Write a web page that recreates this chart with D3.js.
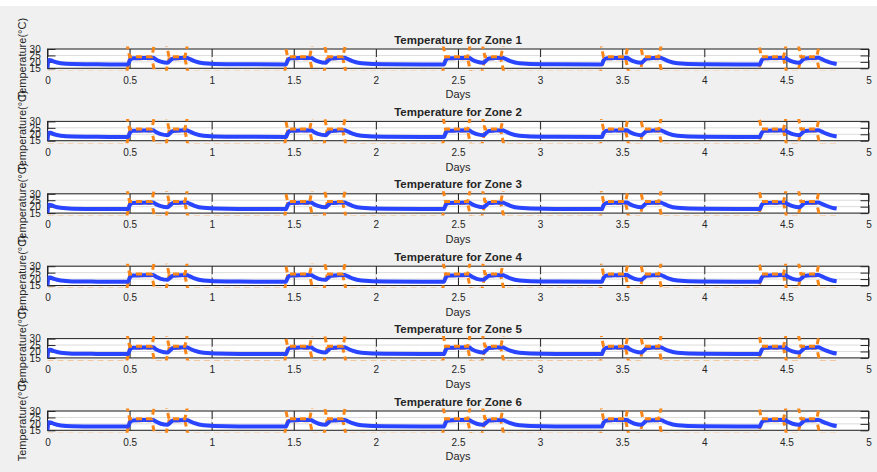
<!DOCTYPE html>
<html>
<head>
<meta charset="utf-8">
<script src="https://cdn.jsdelivr.net/npm/d3@7"></script>
<style>
  html, body { margin: 0; padding: 0; background: #f0f0f0; }
  svg { display: block; }
  text { font-family: "Liberation Sans", Arial, Helvetica, sans-serif; fill: #262626; }
</style>
</head>
<body>
<svg id="fig" width="877" height="472"></svg>
<script>
// Zone titles
const zoneNames = ["Zone 1", "Zone 2", "Zone 3", "Zone 4", "Zone 5", "Zone 6"];

// Sample times (days) of the simulated indoor temperature
const days = [
  0, 0.006, 0.018, 0.040, 0.080, 0.150, 0.300,
  0.490, 0.502, 0.520, 0.580, 0.642, 0.660, 0.690, 0.732, 0.746, 0.765, 0.847, 0.865, 0.895, 0.950, 1.090,
  1.452, 1.464, 1.482, 1.542, 1.604, 1.622, 1.652, 1.694, 1.708, 1.727, 1.809, 1.827, 1.857, 1.912, 2.052,
  2.414, 2.426, 2.444, 2.504, 2.566, 2.584, 2.614, 2.656, 2.670, 2.689, 2.771, 2.789, 2.819, 2.874, 3.014,
  3.376, 3.388, 3.406, 3.466, 3.528, 3.546, 3.576, 3.618, 3.632, 3.651, 3.733, 3.751, 3.781, 3.836, 3.976,
  4.338, 4.350, 4.368, 4.428, 4.490, 4.508, 4.538, 4.580, 4.594, 4.613, 4.695, 4.713, 4.743, 4.780, 4.806
];

// Indoor temperature per zone (°C)
const zone1Temp = [
  15.2, 21.4, 21.3, 20.2, 19.0, 18.3, 18.1,
  18.0, 21.4, 22.8, 23.1, 23.2, 21.9, 20.2, 19.3, 20.9, 22.7, 23.2, 22.3, 20.6, 19.0, 18.2,
  18.0, 21.4, 22.8, 23.1, 23.2, 21.9, 20.2, 19.3, 20.9, 22.7, 23.2, 22.3, 20.6, 19.0, 18.2,
  18.0, 21.4, 22.8, 23.1, 23.2, 21.9, 20.2, 19.3, 20.9, 22.7, 23.2, 22.3, 20.6, 19.0, 18.2,
  18.0, 21.4, 22.8, 23.1, 23.2, 21.9, 20.2, 19.3, 20.9, 22.7, 23.2, 22.3, 20.6, 19.0, 18.2,
  18.0, 21.4, 22.8, 23.1, 23.2, 21.9, 20.2, 19.3, 20.9, 22.7, 23.2, 22.3, 20.6, 19.0, 18.4
];
const zone2Temp = [
  15.2, 21.2, 21.1, 20.0, 18.9, 18.2, 18.0,
  17.9, 21.2, 22.7, 23.0, 23.1, 21.8, 20.1, 19.3, 20.8, 22.6, 23.1, 22.2, 20.5, 18.9, 18.1,
  17.9, 21.2, 22.7, 23.0, 23.1, 21.8, 20.1, 19.3, 20.8, 22.6, 23.1, 22.2, 20.5, 18.9, 18.1,
  17.9, 21.2, 22.7, 23.0, 23.1, 21.8, 20.1, 19.3, 20.8, 22.6, 23.1, 22.2, 20.5, 18.9, 18.1,
  17.9, 21.2, 22.7, 23.0, 23.1, 21.8, 20.1, 19.3, 20.8, 22.6, 23.1, 22.2, 20.5, 18.9, 18.1,
  17.9, 21.2, 22.7, 23.0, 23.1, 21.8, 20.1, 19.3, 20.8, 22.6, 23.1, 22.2, 20.5, 18.9, 18.3
];
const zone3Temp = [
  15.2, 21.5, 21.4, 20.3, 19.1, 18.4, 18.2,
  18.1, 21.5, 22.9, 23.1, 23.2, 22.0, 20.4, 19.5, 21.0, 22.8, 23.2, 22.4, 20.7, 19.1, 18.3,
  18.1, 21.5, 22.9, 23.1, 23.2, 22.0, 20.4, 19.5, 21.0, 22.8, 23.2, 22.4, 20.7, 19.1, 18.3,
  18.1, 21.5, 22.9, 23.1, 23.2, 22.0, 20.4, 19.5, 21.0, 22.8, 23.2, 22.4, 20.7, 19.1, 18.3,
  18.1, 21.5, 22.9, 23.1, 23.2, 22.0, 20.4, 19.5, 21.0, 22.8, 23.2, 22.4, 20.7, 19.1, 18.3,
  18.1, 21.5, 22.9, 23.1, 23.2, 22.0, 20.4, 19.5, 21.0, 22.8, 23.2, 22.4, 20.7, 19.1, 18.5
];
const zone4Temp = [
  15.2, 21.3, 21.2, 20.1, 18.9, 18.2, 18.0,
  17.9, 21.3, 22.7, 23.0, 23.1, 21.9, 20.2, 19.4, 20.9, 22.6, 23.1, 22.3, 20.5, 18.9, 18.1,
  17.9, 21.3, 22.7, 23.0, 23.1, 21.9, 20.2, 19.4, 20.9, 22.6, 23.1, 22.3, 20.5, 18.9, 18.1,
  17.9, 21.3, 22.7, 23.0, 23.1, 21.9, 20.2, 19.4, 20.9, 22.6, 23.1, 22.3, 20.5, 18.9, 18.1,
  17.9, 21.3, 22.7, 23.0, 23.1, 21.9, 20.2, 19.4, 20.9, 22.6, 23.1, 22.3, 20.5, 18.9, 18.1,
  17.9, 21.3, 22.7, 23.0, 23.1, 21.9, 20.2, 19.4, 20.9, 22.6, 23.1, 22.3, 20.5, 18.9, 18.3
];
const zone5Temp = [
  15.2, 21.4, 21.3, 20.2, 19.0, 18.3, 18.1,
  18.0, 21.4, 22.8, 23.1, 23.2, 21.8, 20.1, 19.2, 20.8, 22.7, 23.2, 22.3, 20.6, 19.0, 18.2,
  18.0, 21.4, 22.8, 23.1, 23.2, 21.8, 20.1, 19.2, 20.8, 22.7, 23.2, 22.3, 20.6, 19.0, 18.2,
  18.0, 21.4, 22.8, 23.1, 23.2, 21.8, 20.1, 19.2, 20.8, 22.7, 23.2, 22.3, 20.6, 19.0, 18.2,
  18.0, 21.4, 22.8, 23.1, 23.2, 21.8, 20.1, 19.2, 20.8, 22.7, 23.2, 22.3, 20.6, 19.0, 18.2,
  18.0, 21.4, 22.8, 23.1, 23.2, 21.8, 20.1, 19.2, 20.8, 22.7, 23.2, 22.3, 20.6, 19.0, 18.4
];
const zone6Temp = [
  15.2, 21.2, 21.1, 20.0, 18.8, 18.1, 17.9,
  17.9, 21.3, 22.7, 23.0, 23.1, 21.8, 20.1, 19.3, 20.8, 22.6, 23.1, 22.2, 20.5, 18.9, 18.1,
  17.9, 21.3, 22.7, 23.0, 23.1, 21.8, 20.1, 19.3, 20.8, 22.6, 23.1, 22.2, 20.5, 18.9, 18.1,
  17.9, 21.3, 22.7, 23.0, 23.1, 21.8, 20.1, 19.3, 20.8, 22.6, 23.1, 22.2, 20.5, 18.9, 18.1,
  17.9, 21.3, 22.7, 23.0, 23.1, 21.8, 20.1, 19.3, 20.8, 22.6, 23.1, 22.2, 20.5, 18.9, 18.1,
  17.9, 21.3, 22.7, 23.0, 23.1, 21.8, 20.1, 19.3, 20.8, 22.6, 23.1, 22.2, 20.5, 18.9, 18.3
];
const zoneTemps = [zone1Temp, zone2Temp, zone3Temp, zone4Temp, zone5Temp, zone6Temp];

// Comfort band (heating / cooling setpoints), switched by the occupancy schedule
const spDays = [
  0,
  0.482, 0.500, 0.635, 0.653, 0.722, 0.740, 0.837, 0.855,
  1.444, 1.462, 1.597, 1.615, 1.684, 1.702, 1.799, 1.817,
  2.406, 2.424, 2.559, 2.577, 2.646, 2.664, 2.761, 2.779,
  3.368, 3.386, 3.521, 3.539, 3.608, 3.626, 3.723, 3.741,
  4.330, 4.348, 4.483, 4.501, 4.570, 4.588, 4.685, 4.703,
  4.806
];
const heatSP = [
  12,
  12, 22.5, 22.5, 12, 12, 22.5, 22.5, 12,
  12, 22.5, 22.5, 12, 12, 22.5, 22.5, 12,
  12, 22.5, 22.5, 12, 12, 22.5, 22.5, 12,
  12, 22.5, 22.5, 12, 12, 22.5, 22.5, 12,
  12, 22.5, 22.5, 12, 12, 22.5, 22.5, 12,
  12
];
const coolSP = [
  35,
  35, 24, 24, 35, 35, 24, 24, 35,
  35, 24, 24, 35, 35, 24, 24, 35,
  35, 24, 24, 35, 35, 24, 24, 35,
  35, 24, 24, 35, 35, 24, 24, 35,
  35, 24, 24, 35, 35, 24, 24, 35,
  35
];

// Axis ticks
const xTicks = [0, 0.5, 1, 1.5, 2, 2.5, 3, 3.5, 4, 4.5, 5];
const yTicks = [15, 20, 25, 30];

const svg = d3.select("#fig");
svg.append("rect").attr("width", 877).attr("height", 472).attr("fill", "#f0f0f0");
svg.append("rect").attr("width", 877).attr("height", 6).attr("fill", "#ffffff");

const left = 47.5, right = 868.5;
const firstTop = 49, step = 72.4, boxH = 19.3;

const x = d3.scaleLinear().domain([0, 5]).range([left, right]);
const fmt = d => d3.format("")(d);
const orange = "#f98618";

zoneNames.forEach((name, i) => {
  const top = firstTop + i * step;
  const bottom = top + boxH;
  const y = d3.scaleLinear().domain([15, 30]).range([bottom, top]);
  const g = svg.append("g");

  // plot area
  g.append("rect").attr("x", left).attr("y", top)
    .attr("width", right - left).attr("height", boxH).attr("fill", "#ffffff");

  // grid
  g.append("g").selectAll("line").data(xTicks).join("line")
    .attr("x1", d => x(d)).attr("x2", d => x(d)).attr("y1", top).attr("y2", bottom)
    .attr("stroke", "#dcdcdc").attr("stroke-width", 1);
  g.append("g").selectAll("line").data(yTicks).join("line")
    .attr("x1", left).attr("x2", right).attr("y1", d => y(d)).attr("y2", d => y(d))
    .attr("stroke", "#dcdcdc").attr("stroke-width", 1);

  // axes with inward ticks on all four sides
  const axB = g.append("g").attr("transform", `translate(0,${bottom})`)
    .call(d3.axisBottom(x).tickValues(xTicks).tickFormat(fmt).tickSizeInner(-8).tickSizeOuter(0).tickPadding(8.2));
  const axT = g.append("g").attr("transform", `translate(0,${top})`)
    .call(d3.axisTop(x).tickValues(xTicks).tickFormat("").tickSizeInner(-8).tickSizeOuter(0));
  const axL = g.append("g").attr("transform", `translate(${left},0)`)
    .call(d3.axisLeft(y).tickValues(yTicks).tickFormat(fmt).tickSizeInner(-8).tickSizeOuter(0).tickPadding(6.8));
  const axR = g.append("g").attr("transform", `translate(${right},0)`)
    .call(d3.axisRight(y).tickValues(yTicks).tickFormat("").tickSizeInner(-8).tickSizeOuter(0));
  [axB, axT, axL, axR].forEach(a => {
    a.select(".domain").remove();
    a.selectAll(".tick line").attr("stroke", "#262626");
    a.selectAll("text").attr("fill", "#262626").style("font-size", "10px")
      .style("font-family", '"Liberation Sans", Arial, Helvetica, sans-serif');
  });

  // box
  g.append("rect").attr("x", left).attr("y", top)
    .attr("width", right - left).attr("height", boxH)
    .attr("fill", "none").attr("stroke", "#262626").attr("stroke-width", 1);

  // clip region for data lines
  const clipId = "clip" + i;
  svg.append("clipPath").attr("id", clipId).append("rect")
    .attr("x", left).attr("y", top - 2.5).attr("width", right - left).attr("height", boxH + 5);

  const data = g.append("g").attr("clip-path", `url(#${clipId})`);
  const spLine = d3.line().x((d, k) => x(spDays[k])).y(d => y(d));

  // heating setpoint (sits under the temperature trace)
  data.append("path").datum(heatSP).attr("d", spLine)
    .attr("fill", "none").attr("stroke", orange).attr("stroke-width", 3)
    .attr("stroke-dasharray", "6,4");

  // indoor temperature
  const temps = zoneTemps[i];
  const tLine = d3.line().x((d, k) => x(days[k])).y(d => y(d)).curve(d3.curveMonotoneX);
  data.append("path").datum(temps).attr("d", tLine)
    .attr("fill", "none").attr("stroke", "#2a45ff").attr("stroke-width", 4)
    .attr("stroke-linejoin", "round");

  // cooling setpoint
  data.append("path").datum(coolSP).attr("d", spLine)
    .attr("fill", "none").attr("stroke", orange).attr("stroke-width", 3)
    .attr("stroke-dasharray", "6,4");

  // labels
  g.append("text").attr("x", (left + right) / 2).attr("y", top - 5.5)
    .attr("text-anchor", "middle").style("font-size", "11.5px").style("font-weight", "bold")
    .text("Temperature for " + name);
  g.append("text").attr("x", (left + right) / 2).attr("y", bottom + 30)
    .attr("text-anchor", "middle").style("font-size", "11px").text("Days");
  g.append("text")
    .attr("transform", `translate(21.7,${(top + bottom) / 2}) rotate(-90)`)
    .attr("text-anchor", "middle").attr("dominant-baseline", "central")
    .style("font-size", "11px").text("Temperature(°C)");
});
</script>
</body>
</html>
